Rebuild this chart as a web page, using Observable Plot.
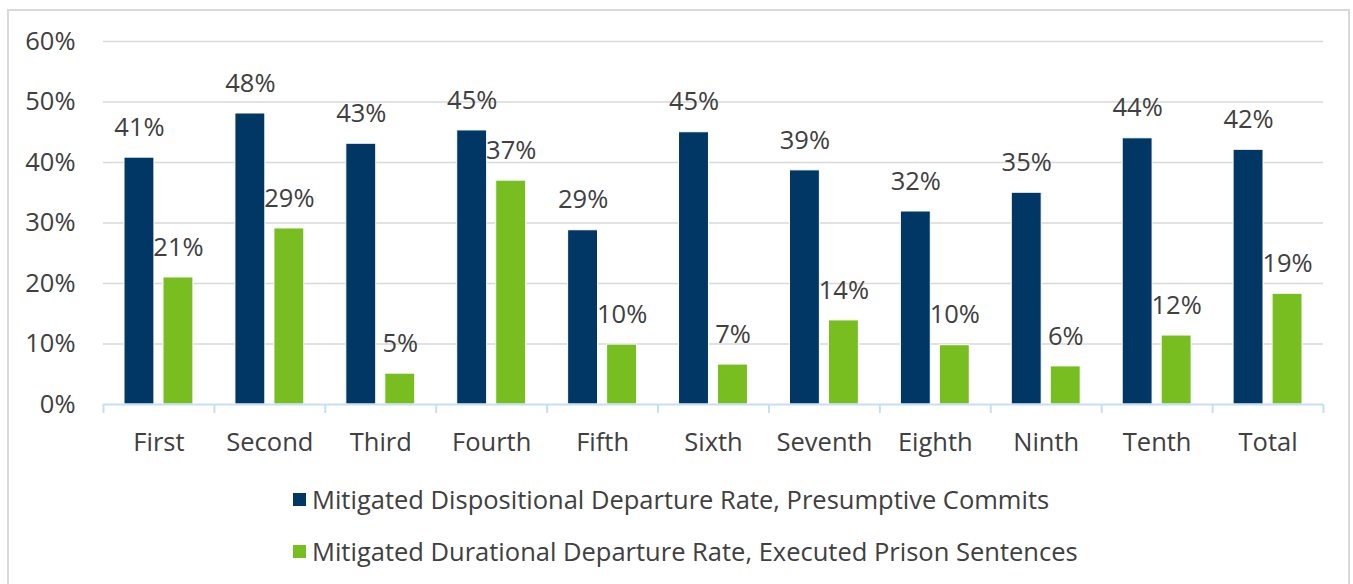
<!DOCTYPE html>
<html>
<head>
<meta charset="utf-8">
<script src="https://cdn.jsdelivr.net/npm/d3@7"></script>
<script src="https://cdn.jsdelivr.net/npm/@observablehq/plot@0.6"></script>
<style>
  html, body { margin: 0; padding: 0; background: #fff; }
  #wrap { position: relative; width: 1353px; height: 584px; overflow: hidden; font-family: "Open Sans", sans-serif; color: #404040; }
  #border { position: absolute; left: 7px; top: 9px; width: 1343px; height: 600px; border: 2px solid #d9d9d9; box-sizing: border-box; }
  #chart { position: absolute; left: 0; top: 0; }
  #legend { position: absolute; left: 293px; top: 480px; font-size: 25.5px; }
  .row { display: flex; align-items: center; height: 38px; margin-bottom: 14px; }
  .sw { width: 13px; height: 13px; margin-right: 6px; }
</style>
</head>
<body>
<div id="wrap">
  <div id="border"></div>
  <div id="chart"></div>
  <div id="legend"></div>
</div>
<script>
const districts = ["First","Second","Third","Fourth","Fifth","Sixth","Seventh","Eighth","Ninth","Tenth","Total"];
const seriesNames = [
  "Mitigated Dispositional Departure Rate, Presumptive Commits",
  "Mitigated Durational Departure Rate, Executed Prison Sentences"
];
const dispositional = [0.408, 0.481, 0.431, 0.453, 0.288, 0.450, 0.387, 0.319, 0.350, 0.440, 0.421];
const dispositionalLabels = ["41%","48%","43%","45%","29%","45%","39%","32%","35%","44%","42%"];
const durational = [0.210, 0.291, 0.051, 0.370, 0.099, 0.066, 0.139, 0.098, 0.063, 0.114, 0.183];
const durationalLabels = ["21%","29%","5%","37%","10%","7%","14%","10%","6%","12%","19%"];
const yTicks = [0, 0.1, 0.2, 0.3, 0.4, 0.5, 0.6];
const colors = ["#003764", "#78be21"];

const dataA = districts.map((d, i) => ({district: d, value: dispositional[i], label: dispositionalLabels[i]}));
const dataB = districts.map((d, i) => ({district: d, value: durational[i], label: durationalLabels[i]}));

const W = 1353, H = 460, mL = 103, mR = 30, mT = 41, mB = 56;
const step = (W - mL - mR) / districts.length;
const plotH = H - mT - mB;
const FS = 25.5;

const chart = Plot.plot({
  width: W,
  height: H,
  marginLeft: mL,
  marginRight: mR,
  marginTop: mT,
  marginBottom: mB,
  style: {fontFamily: "'Open Sans', sans-serif", fontSize: FS + "px", color: "#404040", background: "transparent"},
  x: {type: "band", domain: districts, padding: 0, round: false, label: null},
  y: {domain: [0, 0.6], label: null},
  marks: [
    Plot.ruleY(yTicks.slice(1), {stroke: "#d9d9d9", strokeWidth: 1.5}),
    Plot.barY(dataA, {x: "district", y: "value", fill: colors[0], insetLeft: 21, insetRight: 60, stroke: "white", strokeWidth: 1}),
    Plot.barY(dataB, {x: "district", y: "value", fill: colors[1], insetLeft: 60, insetRight: 21, stroke: "white", strokeWidth: 1}),
    Plot.ruleY([0], {stroke: "#c5dff5", strokeWidth: 2}),
    Plot.ruleX(districts, {x: d => d, dx: -step / 2, insetTop: plotH, insetBottom: -9, stroke: "#c5dff5", strokeWidth: 2}),
    Plot.ruleX(districts.slice(-1), {x: d => d, dx: step / 2, insetTop: plotH, insetBottom: -9, stroke: "#c5dff5", strokeWidth: 2}),
    Plot.text(dataA, {x: "district", y: "value", text: "label", dx: -19.5, dy: -30, fill: "#404040", fontSize: FS}),
    Plot.text(dataB, {x: "district", y: "value", text: "label", dx: 19.5, dy: -30, fill: "#404040", fontSize: FS}),
    Plot.axisY({ticks: yTicks, tickFormat: d => Math.round(d * 100) + "%", tickSize: 0, tickPadding: 28, fontSize: FS, label: null}),
    Plot.axisX({tickSize: 0, tickPadding: 28, fontSize: FS, label: null})
  ]
});
document.getElementById("chart").appendChild(chart);

const legend = document.getElementById("legend");
seriesNames.forEach((name, i) => {
  const row = document.createElement("div");
  row.className = "row";
  const sw = document.createElement("div");
  sw.className = "sw";
  sw.style.background = colors[i];
  const t = document.createElement("span");
  t.textContent = name;
  row.appendChild(sw);
  row.appendChild(t);
  legend.appendChild(row);
});
</script>
</body>
</html>
